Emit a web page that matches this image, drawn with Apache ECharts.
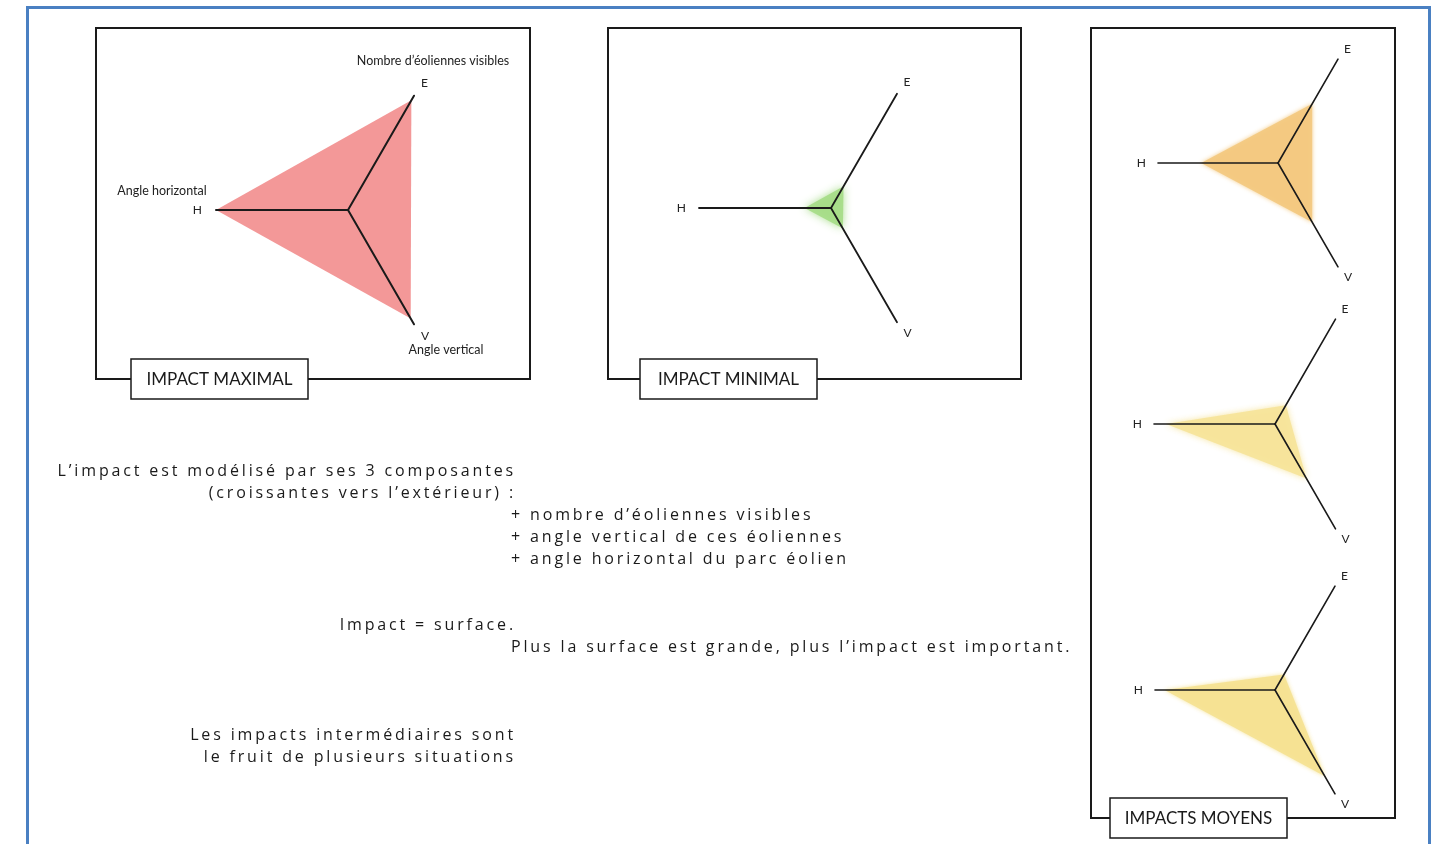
<!DOCTYPE html>
<html>
<head>
<meta charset="utf-8">
<title>Impact éolien</title>
<script src="https://cdn.jsdelivr.net/npm/echarts@6.0.0/dist/echarts.min.js"></script>
<style>
  html, body { margin: 0; padding: 0; background: #fff; }
  #wrap { position: relative; width: 1444px; height: 844px; overflow: hidden; }
  #chart { position: absolute; left: 0; top: 0; width: 1444px; height: 844px; }
  .txt {
    position: absolute; white-space: nowrap; color: #1a1a1a;
    font-family: "Open Sans", sans-serif; font-size: 16px; letter-spacing: 2.85px;
    line-height: 22px;
  }
  .r { text-align: right; }
</style>
</head>
<body>
<div id="wrap">
  <div id="chart"></div>
  <div id="notes"></div>
</div>
<script>
// axes of every radar, counter-clockwise from the upper right
var axisNames = ["E", "H", "V"];
var axisMax = 10;
var axisDescriptions = ["Nombre d’éoliennes visibles", "Angle horizontal", "Angle vertical"];

// values per radar [E, H, V]
var impactMaximal = [9.6, 10, 9.5];
var impactMinimal = [1.9, 2, 1.8];
var impactMoyen1 = [5.7, 6.4, 5.7];
var impactMoyen2 = [1.8, 9, 5.2];
var impactMoyen3 = [1.5, 9.2, 8.3];

var panelTitles = ["IMPACT MAXIMAL", "IMPACT MINIMAL", "IMPACTS MOYENS"];

// explanation text, [text, anchor]  ('r' = right aligned on the column, 'l' = left)
var noteLines = [
  ["L’impact est modélisé par ses 3 composantes", "r"],
  ["(croissantes vers l’extérieur) :", "r"],
  ["+ nombre d’éoliennes visibles", "l"],
  ["+ angle vertical de ces éoliennes", "l"],
  ["+ angle horizontal du parc éolien", "l"],
  ["Impact = surface.", "r"],
  ["Plus la surface est grande, plus l’impact est important.", "l"],
  ["Les impacts intermédiaires sont", "r"],
  ["le fruit de plusieurs situations", "r"]
];
var noteTops = [459, 481, 503, 525, 547, 613, 635, 723, 745];

// html notes (letter spacing is not available in canvas text)
var notes = document.getElementById("notes");
noteLines.forEach(function (line, i) {
  var d = document.createElement("div");
  d.className = "txt" + (line[1] === "r" ? " r" : "");
  d.textContent = line[0];
  d.style.top = noteTops[i] + "px";
  if (line[1] === "r") {
    d.style.right = (1444 - 516) + "px";
  } else {
    d.style.left = "511px";
  }
  notes.appendChild(d);
});

function makeRadar(center, radius, lineWidth, gap) {
  return {
    center: center,
    radius: radius,
    startAngle: 60,
    shape: "polygon",
    splitNumber: 1,
    z: 5,
    indicator: axisNames.map(function (n) {
      return { name: n, min: 0, max: axisMax };
    }),
    axisName: { color: "#222", fontSize: 12, fontFamily: "Lato" },
    axisNameGap: gap,
    axisLine: { lineStyle: { color: "#1a1a1a", width: lineWidth } },
    splitLine: { show: false },
    splitArea: { show: false },
    axisTick: { show: false },
    axisLabel: { show: false }
  };
}

function makeSeries(radarIndex, values, color, blur) {
  return {
    type: "radar",
    radarIndex: radarIndex,
    symbol: "none",
    silent: true,
    lineStyle: { width: 0, opacity: 0 },
    areaStyle: {
      color: color,
      opacity: 0.92,
      shadowBlur: blur,
      shadowColor: color
    },
    data: [{ value: values }]
  };
}

var panels = [
  [96, 28, 434, 351],
  [608, 28, 413, 351],
  [1091, 28, 304, 790]
];
var titleBoxes = [
  [131, 359, 177, 40],
  [640, 359, 177, 40],
  [1110, 798, 177, 40]
];

var graphics = [
  {
    type: "rect", z: 1,
    shape: { x: 27.5, y: 7.5, width: 1402, height: 900 },
    style: { fill: "none", stroke: "#4a80c2", lineWidth: 3 }
  }
];
panels.forEach(function (p) {
  graphics.push({
    type: "rect", z: 1,
    shape: { x: p[0], y: p[1], width: p[2], height: p[3] },
    style: { fill: "none", stroke: "#1a1a1a", lineWidth: 2 }
  });
});
titleBoxes.forEach(function (b, i) {
  graphics.push({
    type: "rect", z: 10,
    shape: { x: b[0], y: b[1], width: b[2], height: b[3] },
    style: { fill: "#fff", stroke: "#1a1a1a", lineWidth: 1.5 }
  });
  graphics.push({
    type: "text", z: 11,
    style: {
      text: panelTitles[i],
      x: b[0] + b[2] / 2, y: b[1] + b[3] / 2 + 1,
      textAlign: "center", textVerticalAlign: "middle",
      font: "17px Lato", fill: "#1a1a1a"
    }
  });
});
// long axis descriptions on the first radar
var descPos = [[433, 61], [162, 191], [446, 350]];
axisDescriptions.forEach(function (t, i) {
  graphics.push({
    type: "text", z: 11,
    style: {
      text: t, x: descPos[i][0], y: descPos[i][1],
      textAlign: "center", textVerticalAlign: "middle",
      font: "12.5px Lato", fill: "#222"
    }
  });
});

var chart = echarts.init(document.getElementById("chart"));
chart.setOption({
  animation: false,
  backgroundColor: "#fff",
  radar: [
    makeRadar([348, 210], 132, 2, 14),
    makeRadar([831, 208], 132, 1.8, 13),
    makeRadar([1278, 163], 120, 1.6, 12),
    makeRadar([1275, 424], 121, 1.6, 12),
    makeRadar([1275, 690], 120, 1.6, 12)
  ],
  series: [
    makeSeries(0, impactMaximal, "#f28f8f", 0),
    makeSeries(1, impactMinimal, "#a6dc88", 8),
    makeSeries(2, impactMoyen1, "#f3c980", 4),
    makeSeries(3, impactMoyen2, "#f6e49a", 6),
    makeSeries(4, impactMoyen3, "#f5e293", 4)
  ],
  graphic: graphics
});
</script>
</body>
</html>
